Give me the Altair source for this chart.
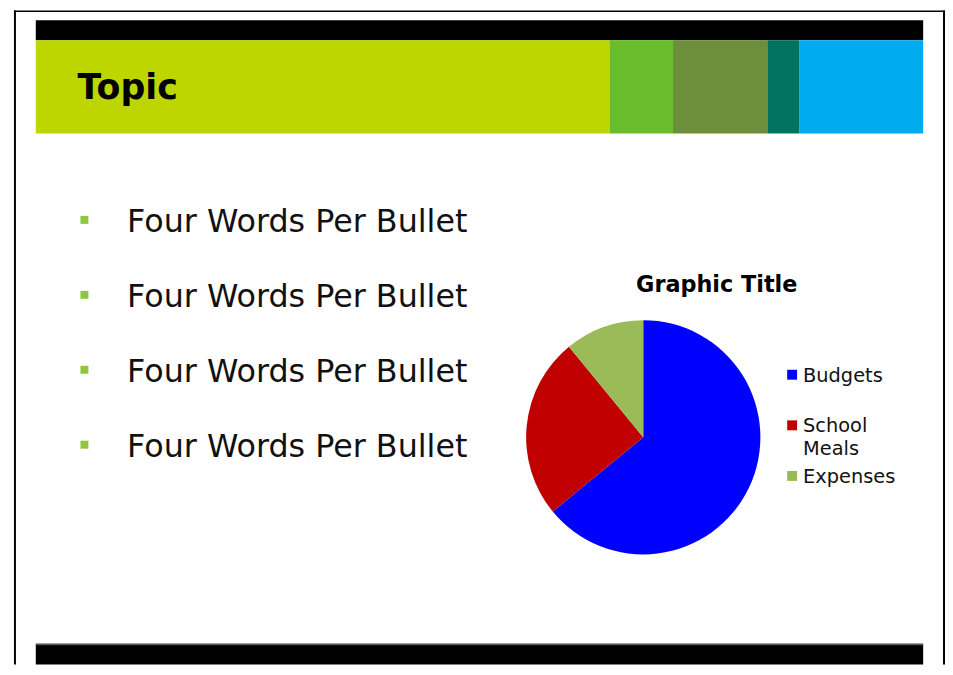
import altair as alt
import pandas as pd

# ---- data ----
categories = ["Budgets", "School Meals", "Expenses"]
values = [8.2, 3.2, 1.4]
slice_colors = ["#0000FF", "#C00000", "#9BBB59"]
legend_labels = ["Budgets", "School\nMeals", "Expenses"]
slide_title = "Topic"
chart_title = "Graphic Title"
bullets = ["Four Words Per Bullet", "Four Words Per Bullet",
           "Four Words Per Bullet", "Four Words Per Bullet"]
band_colors = ["#BED600", "#6ABD2A", "#6D8E3B", "#00735F", "#00ABEF"]

# ---- layout (pixels inside the chart) ----
W, H = 944, 659
band_edges = [28, 606, 670, 765, 797, 922]
bullet_baselines = [223, 298.5, 374, 449.5]
FONT = "DejaVu Sans"

one = pd.DataFrame({"k": [0]})


def rect(x, x2, y, y2, color):
    return alt.Chart(one).mark_rect(color=color).encode(
        x=alt.value(x), x2=alt.value(x2), y=alt.value(y), y2=alt.value(y2)
    )


def label(txt, x, y, size, weight="normal", align="left", color="#111111"):
    return alt.Chart(one).mark_text(
        text=txt, align=align, baseline="alphabetic", font=FONT,
        fontSize=size, fontWeight=weight, color=color
    ).encode(x=alt.value(x), y=alt.value(y))


layers = []
# frame
layers.append(rect(6, 8, 0, H, "#000000"))
layers.append(rect(6, 944, 0, 1.5, "#000000"))
layers.append(rect(942, 944, 0, H, "#000000"))
# top black bar and colour band
layers.append(rect(28, 922, 10, 30, "#000000"))
for i, c in enumerate(band_colors):
    layers.append(rect(band_edges[i], band_edges[i + 1], 30, 124, c))
# bottom bar
layers.append(rect(28, 922, 638, 659, "#000000"))
layers.append(rect(28, 922, 638, 639.5, "#555555"))

# slide title
layers.append(label(slide_title, 70, 89, 35, weight="bold", color="#000000"))

# bullets
for b, yb in zip(bullets, bullet_baselines):
    layers.append(rect(73, 81, yb - 16, yb - 8, "#8DC63F"))
    layers.append(label(b, 120, yb, 32))

# pie chart
pie_df = pd.DataFrame({"category": categories, "value": values,
                       "order": list(range(len(categories)))})
color_scale = alt.Scale(domain=categories, range=slice_colors)
pie = alt.Chart(pie_df).mark_arc(outerRadius=118).encode(
    theta=alt.Theta("value:Q", stack=True),
    color=alt.Color("category:N", scale=color_scale, legend=None),
    order=alt.Order("order:Q"),
    x=alt.value(640), y=alt.value(430),
)
layers.append(pie)
layers.append(label(chart_title, 714, 284, 22.5, weight="bold", align="center",
                    color="#000000"))

# legend (drawn from the same colour scale)
leg_df = pd.DataFrame({"category": categories, "label": legend_labels})
leg_y = alt.Y("category:N", axis=None,
              scale=alt.Scale(type="point", domain=categories,
                              range=[367, 469], padding=0))
layers.append(alt.Chart(leg_df).mark_square(size=100, opacity=1).encode(
    x=alt.value(790), y=leg_y,
    color=alt.Color("category:N", scale=color_scale, legend=None),
))
layers.append(alt.Chart(leg_df).mark_text(
    align="left", baseline="alphabetic", dy=7, lineBreak="\n", lineHeight=23,
    font=FONT, fontSize=19.5, color="#111111"
).encode(x=alt.value(801), y=leg_y, text="label:N"))

chart = alt.layer(*layers).properties(
    width=W, height=H, padding=0, autosize="none", background="#FFFFFF"
).configure_view(stroke=None)

chart.save("out.html", embed_options={"renderer": "svg", "actions": False})
